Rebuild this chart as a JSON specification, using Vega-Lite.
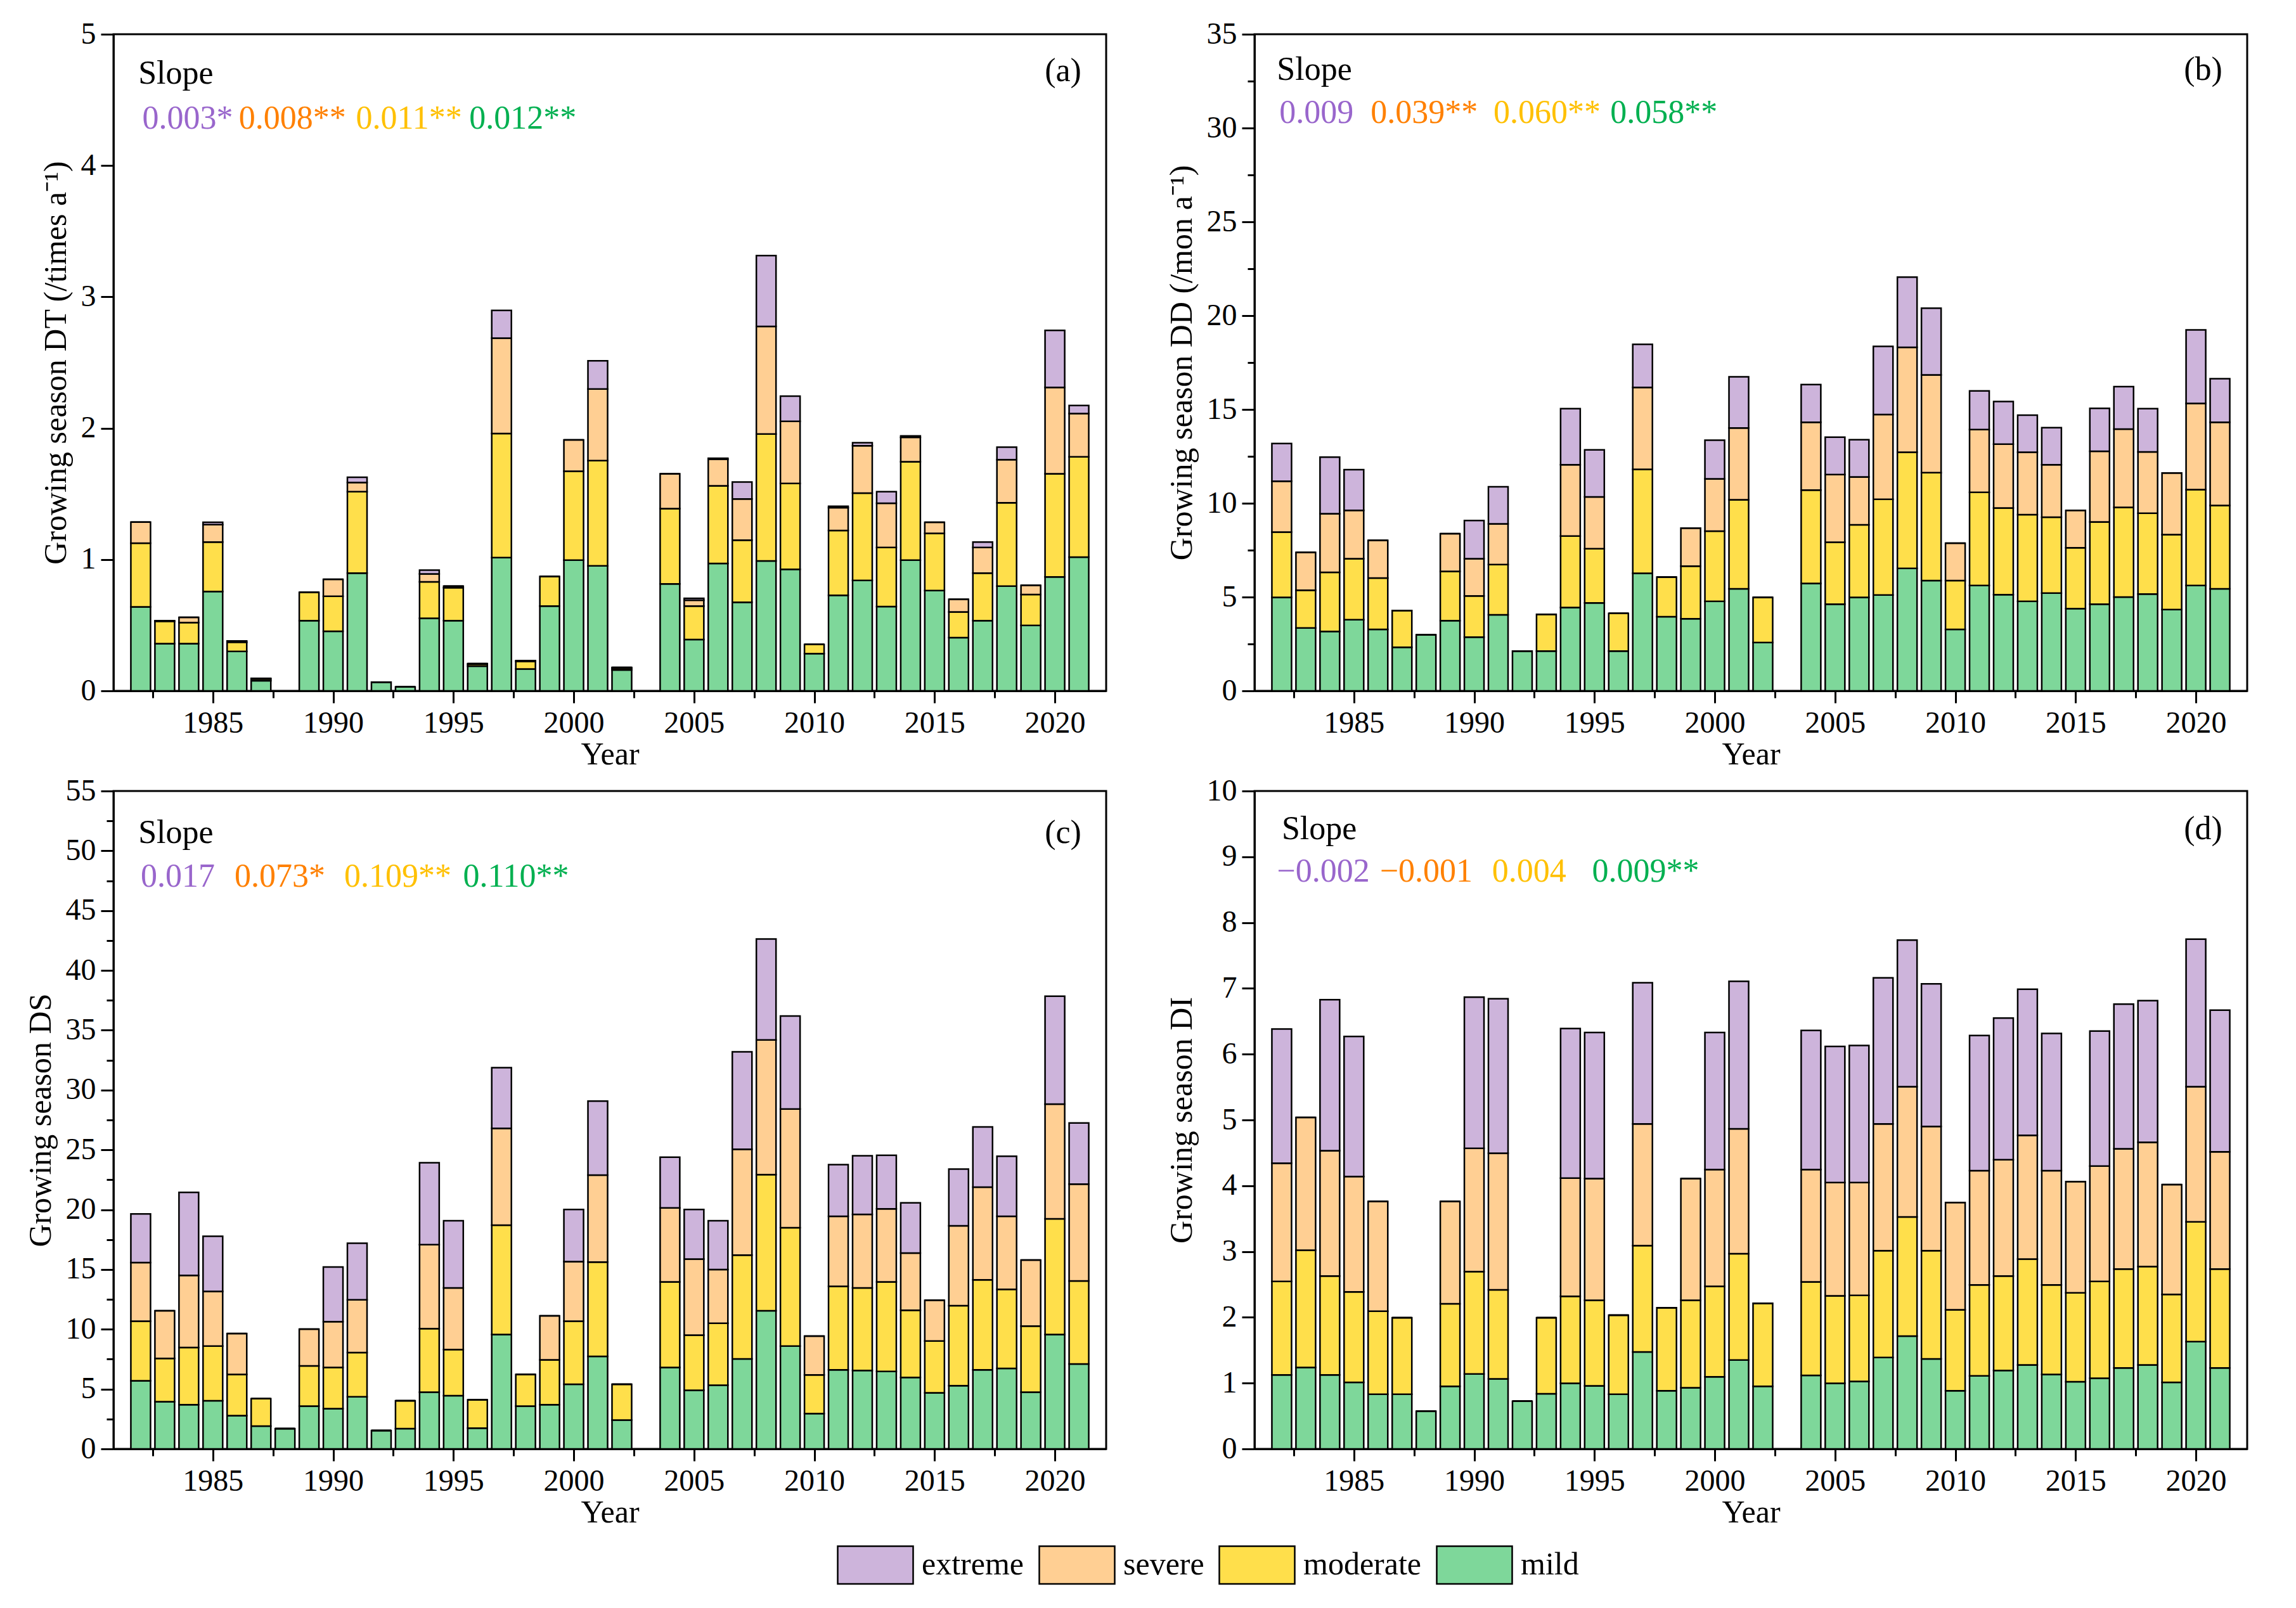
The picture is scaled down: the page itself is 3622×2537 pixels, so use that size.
{
  "$schema": "https://vega.github.io/schema/vega-lite/v6.json",
  "background": "white",
  "padding": {"left": 37, "top": 28, "right": 10, "bottom": 10},
  "config": {
    "font": "Liberation Serif",
    "view": {"stroke": "black", "strokeWidth": 3},
    "axis": {
      "labelFont": "Liberation Serif", "labelFontSize": 48, "labelColor": "black",
      "titleFont": "Liberation Serif", "titleFontSize": 50, "titleFontWeight": "normal", "titleColor": "black",
      "domainColor": "black", "domainWidth": 3, "tickColor": "black", "tickWidth": 3, "grid": false,
      "labelPadding": 8, "labelOverlap": false, "labelFlush": false
    }
  },
  "datasets": {
    "ranks": [
      {"level": "mild", "rank": 1}, {"level": "moderate", "rank": 2},
      {"level": "severe", "rank": 3}, {"level": "extreme", "rank": 4}
    ],
    "a": [
      {"year": 1982, "mild": 0.64, "moderate": 0.485, "severe": 0.16, "extreme": 0},
      {"year": 1983, "mild": 0.36, "moderate": 0.17, "severe": 0.005, "extreme": 0},
      {"year": 1984, "mild": 0.36, "moderate": 0.16, "severe": 0.04, "extreme": 0},
      {"year": 1985, "mild": 0.757, "moderate": 0.376, "severe": 0.133, "extreme": 0.018},
      {"year": 1986, "mild": 0.30, "moderate": 0.07, "severe": 0.01, "extreme": 0},
      {"year": 1987, "mild": 0.077, "moderate": 0.013, "severe": 0.005, "extreme": 0},
      {"year": 1989, "mild": 0.535, "moderate": 0.215, "severe": 0, "extreme": 0},
      {"year": 1990, "mild": 0.454, "moderate": 0.266, "severe": 0.13, "extreme": 0},
      {"year": 1991, "mild": 0.897, "moderate": 0.62, "severe": 0.07, "extreme": 0.04},
      {"year": 1992, "mild": 0.066, "moderate": 0, "severe": 0, "extreme": 0},
      {"year": 1993, "mild": 0.03, "moderate": 0, "severe": 0, "extreme": 0},
      {"year": 1994, "mild": 0.553, "moderate": 0.277, "severe": 0.06, "extreme": 0.03},
      {"year": 1995, "mild": 0.535, "moderate": 0.251, "severe": 0.011, "extreme": 0},
      {"year": 1996, "mild": 0.188, "moderate": 0.015, "severe": 0.005, "extreme": 0},
      {"year": 1997, "mild": 1.015, "moderate": 0.945, "severe": 0.726, "extreme": 0.211},
      {"year": 1998, "mild": 0.166, "moderate": 0.059, "severe": 0.005, "extreme": 0},
      {"year": 1999, "mild": 0.646, "moderate": 0.225, "severe": 0, "extreme": 0},
      {"year": 2000, "mild": 0.996, "moderate": 0.676, "severe": 0.239, "extreme": 0},
      {"year": 2001, "mild": 0.952, "moderate": 0.801, "severe": 0.546, "extreme": 0.214},
      {"year": 2002, "mild": 0.159, "moderate": 0.014, "severe": 0.005, "extreme": 0},
      {"year": 2004, "mild": 0.815, "moderate": 0.572, "severe": 0.266, "extreme": 0},
      {"year": 2005, "mild": 0.391, "moderate": 0.255, "severe": 0.044, "extreme": 0.015},
      {"year": 2006, "mild": 0.970, "moderate": 0.591, "severe": 0.203, "extreme": 0.007},
      {"year": 2007, "mild": 0.675, "moderate": 0.473, "severe": 0.313, "extreme": 0.129},
      {"year": 2008, "mild": 0.989, "moderate": 0.967, "severe": 0.819, "extreme": 0.539},
      {"year": 2009, "mild": 0.926, "moderate": 0.653, "severe": 0.473, "extreme": 0.192},
      {"year": 2010, "mild": 0.284, "moderate": 0.07, "severe": 0, "extreme": 0},
      {"year": 2011, "mild": 0.727, "moderate": 0.494, "severe": 0.174, "extreme": 0.011},
      {"year": 2012, "mild": 0.841, "moderate": 0.665, "severe": 0.361, "extreme": 0.022},
      {"year": 2013, "mild": 0.642, "moderate": 0.45, "severe": 0.336, "extreme": 0.089},
      {"year": 2014, "mild": 0.996, "moderate": 0.749, "severe": 0.185, "extreme": 0.011},
      {"year": 2015, "mild": 0.764, "moderate": 0.435, "severe": 0.085, "extreme": 0},
      {"year": 2016, "mild": 0.406, "moderate": 0.195, "severe": 0.096, "extreme": 0},
      {"year": 2017, "mild": 0.535, "moderate": 0.362, "severe": 0.195, "extreme": 0.041},
      {"year": 2018, "mild": 0.797, "moderate": 0.635, "severe": 0.328, "extreme": 0.096},
      {"year": 2019, "mild": 0.498, "moderate": 0.236, "severe": 0.07, "extreme": 0},
      {"year": 2020, "mild": 0.867, "moderate": 0.786, "severe": 0.657, "extreme": 0.435},
      {"year": 2021, "mild": 1.018, "moderate": 0.764, "severe": 0.329, "extreme": 0.062}
    ],
    "b": [
      {"year": 1982, "mild": 4.98, "moderate": 3.48, "severe": 2.71, "extreme": 2.01},
      {"year": 1983, "mild": 3.35, "moderate": 2.01, "severe": 2.02, "extreme": 0},
      {"year": 1984, "mild": 3.17, "moderate": 3.15, "severe": 3.12, "extreme": 3.02},
      {"year": 1985, "mild": 3.79, "moderate": 3.25, "severe": 2.58, "extreme": 2.17},
      {"year": 1986, "mild": 3.28, "moderate": 2.73, "severe": 2.01, "extreme": 0},
      {"year": 1987, "mild": 2.32, "moderate": 1.96, "severe": 0, "extreme": 0},
      {"year": 1988, "mild": 2.99, "moderate": 0, "severe": 0, "extreme": 0},
      {"year": 1989, "mild": 3.74, "moderate": 2.63, "severe": 2.01, "extreme": 0},
      {"year": 1990, "mild": 2.86, "moderate": 2.20, "severe": 1.98, "extreme": 2.04},
      {"year": 1991, "mild": 4.05, "moderate": 2.68, "severe": 2.17, "extreme": 1.98},
      {"year": 1992, "mild": 2.12, "moderate": 0, "severe": 0, "extreme": 0},
      {"year": 1993, "mild": 2.12, "moderate": 1.96, "severe": 0, "extreme": 0},
      {"year": 1994, "mild": 4.44, "moderate": 3.81, "severe": 3.80, "extreme": 2.99},
      {"year": 1995, "mild": 4.69, "moderate": 2.89, "severe": 2.76, "extreme": 2.51},
      {"year": 1996, "mild": 2.12, "moderate": 2.01, "severe": 0, "extreme": 0},
      {"year": 1997, "mild": 6.27, "moderate": 5.54, "severe": 4.36, "extreme": 2.30},
      {"year": 1998, "mild": 3.95, "moderate": 2.11, "severe": 0, "extreme": 0},
      {"year": 1999, "mild": 3.84, "moderate": 2.81, "severe": 2.02, "extreme": 0},
      {"year": 2000, "mild": 4.77, "moderate": 3.74, "severe": 2.79, "extreme": 2.06},
      {"year": 2001, "mild": 5.44, "moderate": 4.75, "severe": 3.82, "extreme": 2.73},
      {"year": 2002, "mild": 2.58, "moderate": 2.40, "severe": 0, "extreme": 0},
      {"year": 2004, "mild": 5.73, "moderate": 4.97, "severe": 3.62, "extreme": 2.01},
      {"year": 2005, "mild": 4.62, "moderate": 3.30, "severe": 3.61, "extreme": 1.99},
      {"year": 2006, "mild": 4.98, "moderate": 3.87, "severe": 2.55, "extreme": 1.99},
      {"year": 2007, "mild": 5.11, "moderate": 5.10, "severe": 4.52, "extreme": 3.63},
      {"year": 2008, "mild": 6.53, "moderate": 6.19, "severe": 5.59, "extreme": 3.74},
      {"year": 2009, "mild": 5.88, "moderate": 5.75, "severe": 5.21, "extreme": 3.56},
      {"year": 2010, "mild": 3.28, "moderate": 2.60, "severe": 1.99, "extreme": 0},
      {"year": 2011, "mild": 5.62, "moderate": 4.96, "severe": 3.35, "extreme": 2.06},
      {"year": 2012, "mild": 5.13, "moderate": 4.62, "severe": 3.40, "extreme": 2.27},
      {"year": 2013, "mild": 4.77, "moderate": 4.62, "severe": 3.33, "extreme": 1.98},
      {"year": 2014, "mild": 5.21, "moderate": 4.05, "severe": 2.79, "extreme": 1.98},
      {"year": 2015, "mild": 4.38, "moderate": 3.25, "severe": 1.99, "extreme": 0},
      {"year": 2016, "mild": 4.62, "moderate": 4.38, "severe": 3.77, "extreme": 2.29},
      {"year": 2017, "mild": 5.00, "moderate": 4.78, "severe": 4.17, "extreme": 2.27},
      {"year": 2018, "mild": 5.16, "moderate": 4.31, "severe": 3.27, "extreme": 2.30},
      {"year": 2019, "mild": 4.33, "moderate": 4.00, "severe": 3.28, "extreme": 0},
      {"year": 2020, "mild": 5.62, "moderate": 5.11, "severe": 4.59, "extreme": 3.92},
      {"year": 2021, "mild": 5.44, "moderate": 4.44, "severe": 4.44, "extreme": 2.32}
    ],
    "c": [
      {"year": 1982, "mild": 5.69, "moderate": 4.99, "severe": 4.90, "extreme": 4.07},
      {"year": 1983, "mild": 3.95, "moderate": 3.61, "severe": 3.99, "extreme": 0},
      {"year": 1984, "mild": 3.70, "moderate": 4.78, "severe": 6.02, "extreme": 6.94},
      {"year": 1985, "mild": 4.03, "moderate": 4.57, "severe": 4.57, "extreme": 4.61},
      {"year": 1986, "mild": 2.78, "moderate": 3.45, "severe": 3.41, "extreme": 0},
      {"year": 1987, "mild": 1.91, "moderate": 2.29, "severe": 0, "extreme": 0},
      {"year": 1988, "mild": 1.70, "moderate": 0, "severe": 0, "extreme": 0},
      {"year": 1989, "mild": 3.57, "moderate": 3.37, "severe": 3.07, "extreme": 0},
      {"year": 1990, "mild": 3.37, "moderate": 3.44, "severe": 3.83, "extreme": 4.57},
      {"year": 1991, "mild": 4.36, "moderate": 3.70, "severe": 4.40, "extreme": 4.74},
      {"year": 1992, "mild": 1.54, "moderate": 0, "severe": 0, "extreme": 0},
      {"year": 1993, "mild": 1.70, "moderate": 2.33, "severe": 0, "extreme": 0},
      {"year": 1994, "mild": 4.74, "moderate": 5.31, "severe": 7.03, "extreme": 6.85},
      {"year": 1995, "mild": 4.45, "moderate": 3.86, "severe": 5.15, "extreme": 5.61},
      {"year": 1996, "mild": 1.74, "moderate": 2.37, "severe": 0, "extreme": 0},
      {"year": 1997, "mild": 9.56, "moderate": 9.14, "severe": 8.10, "extreme": 5.07},
      {"year": 1998, "mild": 3.57, "moderate": 2.66, "severe": 0, "extreme": 0},
      {"year": 1999, "mild": 3.70, "moderate": 3.74, "severe": 3.69, "extreme": 0},
      {"year": 2000, "mild": 5.40, "moderate": 5.28, "severe": 4.98, "extreme": 4.36},
      {"year": 2001, "mild": 7.73, "moderate": 7.89, "severe": 7.27, "extreme": 6.19},
      {"year": 2002, "mild": 2.41, "moderate": 2.99, "severe": 0, "extreme": 0},
      {"year": 2004, "mild": 6.81, "moderate": 7.15, "severe": 6.19, "extreme": 4.24},
      {"year": 2005, "mild": 4.90, "moderate": 4.61, "severe": 6.36, "extreme": 4.15},
      {"year": 2006, "mild": 5.32, "moderate": 5.19, "severe": 4.49, "extreme": 4.07},
      {"year": 2007, "mild": 7.52, "moderate": 8.68, "severe": 8.85, "extreme": 8.15},
      {"year": 2008, "mild": 11.55, "moderate": 11.38, "severe": 11.26, "extreme": 8.44},
      {"year": 2009, "mild": 8.60, "moderate": 9.89, "severe": 9.93, "extreme": 7.77},
      {"year": 2010, "mild": 2.95, "moderate": 3.24, "severe": 3.24, "extreme": 0},
      {"year": 2011, "mild": 6.61, "moderate": 6.98, "severe": 5.85, "extreme": 4.32},
      {"year": 2012, "mild": 6.56, "moderate": 6.90, "severe": 6.15, "extreme": 4.90},
      {"year": 2013, "mild": 6.48, "moderate": 7.48, "severe": 6.11, "extreme": 4.48},
      {"year": 2014, "mild": 5.98, "moderate": 5.61, "severe": 4.78, "extreme": 4.20},
      {"year": 2015, "mild": 4.69, "moderate": 4.33, "severe": 3.40, "extreme": 0},
      {"year": 2016, "mild": 5.28, "moderate": 6.69, "severe": 6.68, "extreme": 4.74},
      {"year": 2017, "mild": 6.61, "moderate": 7.52, "severe": 7.76, "extreme": 5.03},
      {"year": 2018, "mild": 6.73, "moderate": 6.61, "severe": 6.10, "extreme": 5.03},
      {"year": 2019, "mild": 4.74, "moderate": 5.52, "severe": 5.53, "extreme": 0},
      {"year": 2020, "mild": 9.56, "moderate": 9.68, "severe": 9.59, "extreme": 9.02},
      {"year": 2021, "mild": 7.10, "moderate": 6.94, "severe": 8.10, "extreme": 5.11}
    ],
    "d": [
      {"year": 1982, "mild": 1.125, "moderate": 1.42, "severe": 1.798, "extreme": 2.039},
      {"year": 1983, "mild": 1.239, "moderate": 1.782, "severe": 2.017, "extreme": 0},
      {"year": 1984, "mild": 1.125, "moderate": 1.503, "severe": 1.904, "extreme": 2.296},
      {"year": 1985, "mild": 1.012, "moderate": 1.375, "severe": 1.752, "extreme": 2.13},
      {"year": 1986, "mild": 0.831, "moderate": 1.261, "severe": 1.669, "extreme": 0},
      {"year": 1987, "mild": 0.831, "moderate": 1.163, "severe": 0, "extreme": 0},
      {"year": 1988, "mild": 0.574, "moderate": 0, "severe": 0, "extreme": 0},
      {"year": 1989, "mild": 0.952, "moderate": 1.253, "severe": 1.556, "extreme": 0},
      {"year": 1990, "mild": 1.14, "moderate": 1.556, "severe": 1.873, "extreme": 2.297},
      {"year": 1991, "mild": 1.065, "moderate": 1.352, "severe": 2.077, "extreme": 2.349},
      {"year": 1992, "mild": 0.725, "moderate": 0, "severe": 0, "extreme": 0},
      {"year": 1993, "mild": 0.838, "moderate": 1.156, "severe": 0, "extreme": 0},
      {"year": 1994, "mild": 0.997, "moderate": 1.322, "severe": 1.797, "extreme": 2.274},
      {"year": 1995, "mild": 0.959, "moderate": 1.299, "severe": 1.851, "extreme": 2.22},
      {"year": 1996, "mild": 0.831, "moderate": 1.201, "severe": 0, "extreme": 0},
      {"year": 1997, "mild": 1.473, "moderate": 1.616, "severe": 1.851, "extreme": 2.145},
      {"year": 1998, "mild": 0.884, "moderate": 1.261, "severe": 0, "extreme": 0},
      {"year": 1999, "mild": 0.929, "moderate": 1.329, "severe": 1.851, "extreme": 0},
      {"year": 2000, "mild": 1.095, "moderate": 1.375, "severe": 1.775, "extreme": 2.084},
      {"year": 2001, "mild": 1.352, "moderate": 1.616, "severe": 1.896, "extreme": 2.243},
      {"year": 2002, "mild": 0.952, "moderate": 1.261, "severe": 0, "extreme": 0},
      {"year": 2004, "mild": 1.118, "moderate": 1.42, "severe": 1.707, "extreme": 2.115},
      {"year": 2005, "mild": 0.997, "moderate": 1.329, "severe": 1.722, "extreme": 2.07},
      {"year": 2006, "mild": 1.027, "moderate": 1.307, "severe": 1.714, "extreme": 2.085},
      {"year": 2007, "mild": 1.39, "moderate": 1.624, "severe": 1.926, "extreme": 2.22},
      {"year": 2008, "mild": 1.715, "moderate": 1.812, "severe": 1.979, "extreme": 2.228},
      {"year": 2009, "mild": 1.367, "moderate": 1.647, "severe": 1.888, "extreme": 2.167},
      {"year": 2010, "mild": 0.884, "moderate": 1.231, "severe": 1.631, "extreme": 0},
      {"year": 2011, "mild": 1.11, "moderate": 1.382, "severe": 1.738, "extreme": 2.054},
      {"year": 2012, "mild": 1.193, "moderate": 1.435, "severe": 1.768, "extreme": 2.152},
      {"year": 2013, "mild": 1.276, "moderate": 1.609, "severe": 1.881, "extreme": 2.22},
      {"year": 2014, "mild": 1.133, "moderate": 1.359, "severe": 1.738, "extreme": 2.084},
      {"year": 2015, "mild": 1.02, "moderate": 1.352, "severe": 1.691, "extreme": 0},
      {"year": 2016, "mild": 1.073, "moderate": 1.472, "severe": 1.753, "extreme": 2.054},
      {"year": 2017, "mild": 1.231, "moderate": 1.503, "severe": 1.828, "extreme": 2.198},
      {"year": 2018, "mild": 1.276, "moderate": 1.496, "severe": 1.888, "extreme": 2.153},
      {"year": 2019, "mild": 1.012, "moderate": 1.337, "severe": 1.669, "extreme": 0},
      {"year": 2020, "mild": 1.631, "moderate": 1.821, "severe": 2.054, "extreme": 2.243},
      {"year": 2021, "mild": 1.231, "moderate": 1.503, "severe": 1.783, "extreme": 2.152}
    ]
  },
  "columns": 2,
  "spacing": {"row": 5, "column": 90},
  "concat": [
    {
      "width": 1566, "height": 1036,
      "layer": [
        {
          "data": {"name": "a"},
          "transform": [
            {"fold": ["mild", "moderate", "severe", "extreme"], "as": ["level", "count"]},
            {"lookup": "level", "from": {"data": {"name": "ranks"}, "key": "level", "fields": ["rank"]}}
          ],
          "mark": {"type": "bar", "size": 31, "stroke": "black", "strokeWidth": 2.5},
          "encoding": {
            "x": {"field": "year", "type": "quantitative", "scale": {"domain": [1981, 2022], "nice": false, "zero": false},
              "axis": {"title": "Year", "titlePadding": 0, "format": "d",
                "values": [1982.5, 1985, 1987.5, 1990, 1992.5, 1995, 1997.5, 2000, 2002.5, 2005, 2007.5, 2010, 2012.5, 2015, 2017.5, 2020],
                "labelExpr": "datum.value % 5 === 0 ? datum.label : ''",
                "tickSize": {"condition": {"test": "datum.value % 5 === 0", "value": 19}, "value": 11}}},
            "y": {"field": "count", "type": "quantitative", "stack": "zero", "scale": {"domain": [0, 5], "nice": false},
              "axis": {"title": "Growing season DT (/times a⁻¹)", "titlePadding": 14, "format": "d",
                "values": [0, 0.5, 1, 1.5, 2, 2.5, 3, 3.5, 4, 4.5, 5],
                "labelExpr": "datum.value % 1 === 0 ? datum.label : ''",
                "tickSize": {"condition": {"test": "datum.value % 1 === 0", "value": 20}, "value": 11}}},
            "color": {"field": "level", "type": "nominal",
              "scale": {"domain": ["extreme", "severe", "moderate", "mild"], "range": ["#CDB4DB", "#FFCF93", "#FFDF4B", "#7ED79A"]},
              "legend": {"orient": "none", "legendX": 1141, "legendY": 2354, "direction": "horizontal", "title": null,
                "symbolType": "M-1,-0.5H1V0.5H-1Z", "symbolSize": 14161, "symbolStrokeColor": "black", "symbolStrokeWidth": 2.5,
                "symbolOpacity": 1, "labelFont": "Liberation Serif", "labelFontSize": 50, "labelColor": "black",
                "labelOffset": 12, "columnPadding": 18, "labelLimit": 400}},
            "order": {"field": "rank", "type": "quantitative", "sort": "ascending"}
          }
        },
        {"data": {"values": [{}]}, "mark": {"type": "text", "align": "left", "baseline": "middle", "fontSize": 52, "font": "Liberation Serif", "color": "black"},
          "encoding": {"x": {"datum": 1981.9, "type": "quantitative"}, "y": {"datum": 4.7, "type": "quantitative"}, "text": {"value": "Slope"}}},
        {"data": {"values": [{}]}, "mark": {"type": "text", "align": "right", "baseline": "middle", "fontSize": 52, "font": "Liberation Serif", "color": "black"},
          "encoding": {"x": {"datum": 2021.1, "type": "quantitative"}, "y": {"datum": 4.72, "type": "quantitative"}, "text": {"value": "(a)"}}},
        {"data": {"values": [{}]}, "mark": {"type": "text", "align": "left", "baseline": "middle", "fontSize": 52, "font": "Liberation Serif", "color": "#9966CC"},
          "encoding": {"x": {"datum": 1982.07, "type": "quantitative"}, "y": {"datum": 4.36, "type": "quantitative"}, "text": {"value": "0.003*"}}},
        {"data": {"values": [{}]}, "mark": {"type": "text", "align": "left", "baseline": "middle", "fontSize": 52, "font": "Liberation Serif", "color": "#FF8000"},
          "encoding": {"x": {"datum": 1986.08, "type": "quantitative"}, "y": {"datum": 4.36, "type": "quantitative"}, "text": {"value": "0.008**"}}},
        {"data": {"values": [{}]}, "mark": {"type": "text", "align": "left", "baseline": "middle", "fontSize": 52, "font": "Liberation Serif", "color": "#FFC000"},
          "encoding": {"x": {"datum": 1990.95, "type": "quantitative"}, "y": {"datum": 4.36, "type": "quantitative"}, "text": {"value": "0.011**"}}},
        {"data": {"values": [{}]}, "mark": {"type": "text", "align": "left", "baseline": "middle", "fontSize": 52, "font": "Liberation Serif", "color": "#00B050"},
          "encoding": {"x": {"datum": 1995.66, "type": "quantitative"}, "y": {"datum": 4.36, "type": "quantitative"}, "text": {"value": "0.012**"}}}
      ]
    },
    {
      "width": 1566, "height": 1036,
      "layer": [
        {
          "data": {"name": "b"},
          "transform": [
            {"fold": ["mild", "moderate", "severe", "extreme"], "as": ["level", "count"]},
            {"lookup": "level", "from": {"data": {"name": "ranks"}, "key": "level", "fields": ["rank"]}}
          ],
          "mark": {"type": "bar", "size": 31, "stroke": "black", "strokeWidth": 2.5},
          "encoding": {
            "x": {"field": "year", "type": "quantitative", "scale": {"domain": [1981, 2022], "nice": false, "zero": false},
              "axis": {"title": "Year", "titlePadding": 0, "format": "d",
                "values": [1982.5, 1985, 1987.5, 1990, 1992.5, 1995, 1997.5, 2000, 2002.5, 2005, 2007.5, 2010, 2012.5, 2015, 2017.5, 2020],
                "labelExpr": "datum.value % 5 === 0 ? datum.label : ''",
                "tickSize": {"condition": {"test": "datum.value % 5 === 0", "value": 19}, "value": 11}}},
            "y": {"field": "count", "type": "quantitative", "stack": "zero", "scale": {"domain": [0, 35], "nice": false},
              "axis": {"title": "Growing season DD (/mon a⁻¹)", "titlePadding": 14, "format": "d",
                "values": [0, 2.5, 5, 7.5, 10, 12.5, 15, 17.5, 20, 22.5, 25, 27.5, 30, 32.5, 35],
                "labelExpr": "datum.value % 5 === 0 ? datum.label : ''",
                "tickSize": {"condition": {"test": "datum.value % 5 === 0", "value": 20}, "value": 11}}},
            "color": {"field": "level", "type": "nominal"},
            "order": {"field": "rank", "type": "quantitative", "sort": "ascending"}
          }
        },
        {"data": {"values": [{}]}, "mark": {"type": "text", "align": "left", "baseline": "middle", "fontSize": 52, "font": "Liberation Serif", "color": "black"},
          "encoding": {"x": {"datum": 1981.8, "type": "quantitative"}, "y": {"datum": 33.1, "type": "quantitative"}, "text": {"value": "Slope"}}},
        {"data": {"values": [{}]}, "mark": {"type": "text", "align": "right", "baseline": "middle", "fontSize": 52, "font": "Liberation Serif", "color": "black"},
          "encoding": {"x": {"datum": 2021.1, "type": "quantitative"}, "y": {"datum": 33.1, "type": "quantitative"}, "text": {"value": "(b)"}}},
        {"data": {"values": [{}]}, "mark": {"type": "text", "align": "left", "baseline": "middle", "fontSize": 52, "font": "Liberation Serif", "color": "#9966CC"},
          "encoding": {"x": {"datum": 1981.9, "type": "quantitative"}, "y": {"datum": 30.8, "type": "quantitative"}, "text": {"value": "0.009"}}},
        {"data": {"values": [{}]}, "mark": {"type": "text", "align": "left", "baseline": "middle", "fontSize": 52, "font": "Liberation Serif", "color": "#FF8000"},
          "encoding": {"x": {"datum": 1985.7, "type": "quantitative"}, "y": {"datum": 30.8, "type": "quantitative"}, "text": {"value": "0.039**"}}},
        {"data": {"values": [{}]}, "mark": {"type": "text", "align": "left", "baseline": "middle", "fontSize": 52, "font": "Liberation Serif", "color": "#FFC000"},
          "encoding": {"x": {"datum": 1990.8, "type": "quantitative"}, "y": {"datum": 30.8, "type": "quantitative"}, "text": {"value": "0.060**"}}},
        {"data": {"values": [{}]}, "mark": {"type": "text", "align": "left", "baseline": "middle", "fontSize": 52, "font": "Liberation Serif", "color": "#00B050"},
          "encoding": {"x": {"datum": 1995.66, "type": "quantitative"}, "y": {"datum": 30.8, "type": "quantitative"}, "text": {"value": "0.058**"}}}
      ]
    },
    {
      "width": 1566, "height": 1038,
      "layer": [
        {
          "data": {"name": "c"},
          "transform": [
            {"fold": ["mild", "moderate", "severe", "extreme"], "as": ["level", "count"]},
            {"lookup": "level", "from": {"data": {"name": "ranks"}, "key": "level", "fields": ["rank"]}}
          ],
          "mark": {"type": "bar", "size": 31, "stroke": "black", "strokeWidth": 2.5},
          "encoding": {
            "x": {"field": "year", "type": "quantitative", "scale": {"domain": [1981, 2022], "nice": false, "zero": false},
              "axis": {"title": "Year", "titlePadding": 0, "format": "d",
                "values": [1982.5, 1985, 1987.5, 1990, 1992.5, 1995, 1997.5, 2000, 2002.5, 2005, 2007.5, 2010, 2012.5, 2015, 2017.5, 2020],
                "labelExpr": "datum.value % 5 === 0 ? datum.label : ''",
                "tickSize": {"condition": {"test": "datum.value % 5 === 0", "value": 19}, "value": 11}}},
            "y": {"field": "count", "type": "quantitative", "stack": "zero", "scale": {"domain": [0, 55], "nice": false},
              "axis": {"title": "Growing season DS", "titlePadding": 14, "format": "d",
                "values": [0, 2.5, 5, 7.5, 10, 12.5, 15, 17.5, 20, 22.5, 25, 27.5, 30, 32.5, 35, 37.5, 40, 42.5, 45, 47.5, 50, 52.5, 55],
                "labelExpr": "datum.value % 5 === 0 ? datum.label : ''",
                "tickSize": {"condition": {"test": "datum.value % 5 === 0", "value": 20}, "value": 11}}},
            "color": {"field": "level", "type": "nominal"},
            "order": {"field": "rank", "type": "quantitative", "sort": "ascending"}
          }
        },
        {"data": {"values": [{}]}, "mark": {"type": "text", "align": "left", "baseline": "middle", "fontSize": 52, "font": "Liberation Serif", "color": "black"},
          "encoding": {"x": {"datum": 1981.9, "type": "quantitative"}, "y": {"datum": 51.5, "type": "quantitative"}, "text": {"value": "Slope"}}},
        {"data": {"values": [{}]}, "mark": {"type": "text", "align": "right", "baseline": "middle", "fontSize": 52, "font": "Liberation Serif", "color": "black"},
          "encoding": {"x": {"datum": 2021.1, "type": "quantitative"}, "y": {"datum": 51.5, "type": "quantitative"}, "text": {"value": "(c)"}}},
        {"data": {"values": [{}]}, "mark": {"type": "text", "align": "left", "baseline": "middle", "fontSize": 52, "font": "Liberation Serif", "color": "#9966CC"},
          "encoding": {"x": {"datum": 1982.0, "type": "quantitative"}, "y": {"datum": 47.85, "type": "quantitative"}, "text": {"value": "0.017"}}},
        {"data": {"values": [{}]}, "mark": {"type": "text", "align": "left", "baseline": "middle", "fontSize": 52, "font": "Liberation Serif", "color": "#FF8000"},
          "encoding": {"x": {"datum": 1985.9, "type": "quantitative"}, "y": {"datum": 47.85, "type": "quantitative"}, "text": {"value": "0.073*"}}},
        {"data": {"values": [{}]}, "mark": {"type": "text", "align": "left", "baseline": "middle", "fontSize": 52, "font": "Liberation Serif", "color": "#FFC000"},
          "encoding": {"x": {"datum": 1990.46, "type": "quantitative"}, "y": {"datum": 47.85, "type": "quantitative"}, "text": {"value": "0.109**"}}},
        {"data": {"values": [{}]}, "mark": {"type": "text", "align": "left", "baseline": "middle", "fontSize": 52, "font": "Liberation Serif", "color": "#00B050"},
          "encoding": {"x": {"datum": 1995.4, "type": "quantitative"}, "y": {"datum": 47.85, "type": "quantitative"}, "text": {"value": "0.110**"}}}
      ]
    },
    {
      "width": 1566, "height": 1038,
      "layer": [
        {
          "data": {"name": "d"},
          "transform": [
            {"fold": ["mild", "moderate", "severe", "extreme"], "as": ["level", "count"]},
            {"lookup": "level", "from": {"data": {"name": "ranks"}, "key": "level", "fields": ["rank"]}}
          ],
          "mark": {"type": "bar", "size": 31, "stroke": "black", "strokeWidth": 2.5},
          "encoding": {
            "x": {"field": "year", "type": "quantitative", "scale": {"domain": [1981, 2022], "nice": false, "zero": false},
              "axis": {"title": "Year", "titlePadding": 0, "format": "d",
                "values": [1982.5, 1985, 1987.5, 1990, 1992.5, 1995, 1997.5, 2000, 2002.5, 2005, 2007.5, 2010, 2012.5, 2015, 2017.5, 2020],
                "labelExpr": "datum.value % 5 === 0 ? datum.label : ''",
                "tickSize": {"condition": {"test": "datum.value % 5 === 0", "value": 19}, "value": 11}}},
            "y": {"field": "count", "type": "quantitative", "stack": "zero", "scale": {"domain": [0, 10], "nice": false},
              "axis": {"title": "Growing season DI", "titlePadding": 14, "format": "d",
                "values": [0, 0.5, 1, 1.5, 2, 2.5, 3, 3.5, 4, 4.5, 5, 5.5, 6, 6.5, 7, 7.5, 8, 8.5, 9, 9.5, 10],
                "labelExpr": "datum.value % 1 === 0 ? datum.label : ''",
                "tickSize": {"condition": {"test": "datum.value % 1 === 0", "value": 20}, "value": 11}}},
            "color": {"field": "level", "type": "nominal"},
            "order": {"field": "rank", "type": "quantitative", "sort": "ascending"}
          }
        },
        {"data": {"values": [{}]}, "mark": {"type": "text", "align": "left", "baseline": "middle", "fontSize": 52, "font": "Liberation Serif", "color": "black"},
          "encoding": {"x": {"datum": 1982.0, "type": "quantitative"}, "y": {"datum": 9.42, "type": "quantitative"}, "text": {"value": "Slope"}}},
        {"data": {"values": [{}]}, "mark": {"type": "text", "align": "right", "baseline": "middle", "fontSize": 52, "font": "Liberation Serif", "color": "black"},
          "encoding": {"x": {"datum": 2021.1, "type": "quantitative"}, "y": {"datum": 9.42, "type": "quantitative"}, "text": {"value": "(d)"}}},
        {"data": {"values": [{}]}, "mark": {"type": "text", "align": "left", "baseline": "middle", "fontSize": 52, "font": "Liberation Serif", "color": "#9966CC"},
          "encoding": {"x": {"datum": 1981.8, "type": "quantitative"}, "y": {"datum": 8.78, "type": "quantitative"}, "text": {"value": "−0.002"}}},
        {"data": {"values": [{}]}, "mark": {"type": "text", "align": "left", "baseline": "middle", "fontSize": 52, "font": "Liberation Serif", "color": "#FF8000"},
          "encoding": {"x": {"datum": 1986.08, "type": "quantitative"}, "y": {"datum": 8.78, "type": "quantitative"}, "text": {"value": "−0.001"}}},
        {"data": {"values": [{}]}, "mark": {"type": "text", "align": "left", "baseline": "middle", "fontSize": 52, "font": "Liberation Serif", "color": "#FFC000"},
          "encoding": {"x": {"datum": 1990.74, "type": "quantitative"}, "y": {"datum": 8.78, "type": "quantitative"}, "text": {"value": "0.004"}}},
        {"data": {"values": [{}]}, "mark": {"type": "text", "align": "left", "baseline": "middle", "fontSize": 52, "font": "Liberation Serif", "color": "#00B050"},
          "encoding": {"x": {"datum": 1994.9, "type": "quantitative"}, "y": {"datum": 8.78, "type": "quantitative"}, "text": {"value": "0.009**"}}}
      ]
    }
  ]
}
